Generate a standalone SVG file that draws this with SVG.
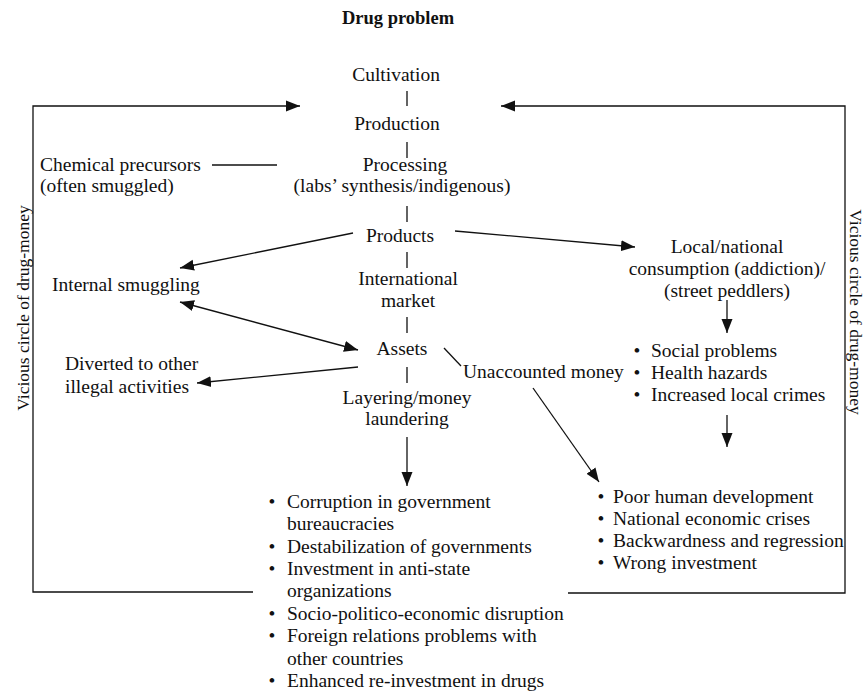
<svg xmlns="http://www.w3.org/2000/svg" width="866" height="691" viewBox="0 0 866 691">
  <style>
    text { font-family: "Liberation Serif", "Times New Roman", serif; font-size: 19.5px; fill: #111; }
    .c { text-anchor: middle; }
    .title { font-weight: bold; font-size: 18.5px; }
    .side { font-size: 17.5px; }
    .ln { stroke: #111; stroke-width: 1.3; fill: none; }
    .arr { marker-end: url(#ah); }
    .dbl { marker-start: url(#ah); marker-end: url(#ah); }
  </style>
  <defs>
    <marker id="ah" markerUnits="userSpaceOnUse" markerWidth="15" markerHeight="12" refX="14" refY="6" orient="auto-start-reverse">
      <path d="M0,0.5 L14,6 L0,11.5 Z" fill="#111"/>
    </marker>
  </defs>

  <!-- heading -->
  <text class="title c" x="398" y="24">Drug problem</text>

  <!-- supply chain column -->
  <g id="cultivation"><text class="c" x="396" y="81">Cultivation</text></g>
  <g id="production"><text class="c" x="397" y="130">Production</text></g>
  <g id="processing">
    <text class="c" x="405" y="171">Processing</text>
    <text class="c" x="402" y="192">(labs’ synthesis/indigenous)</text>
  </g>
  <g id="products"><text class="c" x="400" y="242">Products</text></g>
  <g id="international-market">
    <text class="c" x="408" y="285">International</text>
    <text class="c" x="408" y="307">market</text>
  </g>
  <g id="assets"><text class="c" x="402" y="355">Assets</text></g>
  <g id="layering">
    <text class="c" x="407" y="404">Layering/money</text>
    <text class="c" x="407" y="425">laundering</text>
  </g>

  <!-- side nodes -->
  <g id="precursors">
    <text x="40" y="171">Chemical precursors</text>
    <text x="40" y="192">(often smuggled)</text>
  </g>
  <g id="internal-smuggling"><text x="52" y="291">Internal smuggling</text></g>
  <g id="diverted">
    <text x="65" y="370">Diverted to other</text>
    <text x="65" y="393">illegal activities</text>
  </g>
  <g id="local-consumption">
    <text class="c" x="727" y="253">Local/national</text>
    <text class="c" x="727" y="275">consumption (addiction)/</text>
    <text class="c" x="727" y="297">(street peddlers)</text>
  </g>
  <g id="local-effects">
    <text x="637" y="357" class="c">•</text><text x="651" y="357">Social problems</text>
    <text x="637" y="379" class="c">•</text><text x="651" y="379">Health hazards</text>
    <text x="637" y="401" class="c">•</text><text x="651" y="401">Increased local crimes</text>
  </g>
  <g id="unaccounted-money"><text x="463" y="378">Unaccounted money</text></g>
  <g id="laundering-effects">
    <text x="272" y="508" class="c">•</text><text x="287" y="508">Corruption in government</text>
    <text x="287" y="530">bureaucracies</text>
    <text x="272" y="553" class="c">•</text><text x="287" y="553">Destabilization of governments</text>
    <text x="272" y="575" class="c">•</text><text x="287" y="575">Investment in anti-state</text>
    <text x="287" y="597">organizations</text>
    <text x="272" y="620" class="c">•</text><text x="287" y="620">Socio-politico-economic disruption</text>
    <text x="272" y="642" class="c">•</text><text x="287" y="642">Foreign relations problems with</text>
    <text x="287" y="665">other countries</text>
    <text x="272" y="687" class="c">•</text><text x="287" y="687">Enhanced re-investment in drugs</text>
  </g>
  <g id="national-effects">
    <text x="601" y="503" class="c">•</text><text x="613" y="503">Poor human development</text>
    <text x="601" y="525" class="c">•</text><text x="613" y="525">National economic crises</text>
    <text x="601" y="547" class="c">•</text><text x="613" y="547">Backwardness and regression</text>
    <text x="601" y="569" class="c">•</text><text x="613" y="569">Wrong investment</text>
  </g>
  <g id="vicious-circle-left">
    <text class="side c" transform="translate(29,308) rotate(-90)">Vicious circle of  drug-money</text>
  </g>
  <g id="vicious-circle-right">
    <text class="side c" transform="translate(850,312) rotate(90)">Vicious circle of  drug-money</text>
  </g>

  <!-- connectors -->
  <g id="connectors">
    <!-- column ticks -->
    <path class="ln" d="M407,91 V106 M407,142 V158 M407,206 V222 M407,252 V268 M407,317 V333 M407,367 V383"/>
    <path class="ln arr" d="M407,437 V486"/>
    <!-- precursors into processing -->
    <path class="ln" d="M212,165 H277"/>
    <!-- product flows -->
    <path class="ln arr" d="M353,233 L180,268"/>
    <path class="ln arr" d="M455,231 L635,247"/>
    <path class="ln dbl" d="M180,302 L358,350"/>
    <path class="ln arr" d="M358,367 L197,383"/>
    <path class="ln" d="M444,348 L461,366"/>
    <path class="ln arr" d="M533,388 L599,482"/>
    <path class="ln arr" d="M727,300 V333"/>
    <path class="ln arr" d="M727,415 V447"/>
    <!-- feedback frame -->
    <path class="ln arr" d="M253,592 H33 V106 H300"/>
    <path class="ln arr" d="M568,593 H845 V106 H501"/>
  </g>
</svg>
